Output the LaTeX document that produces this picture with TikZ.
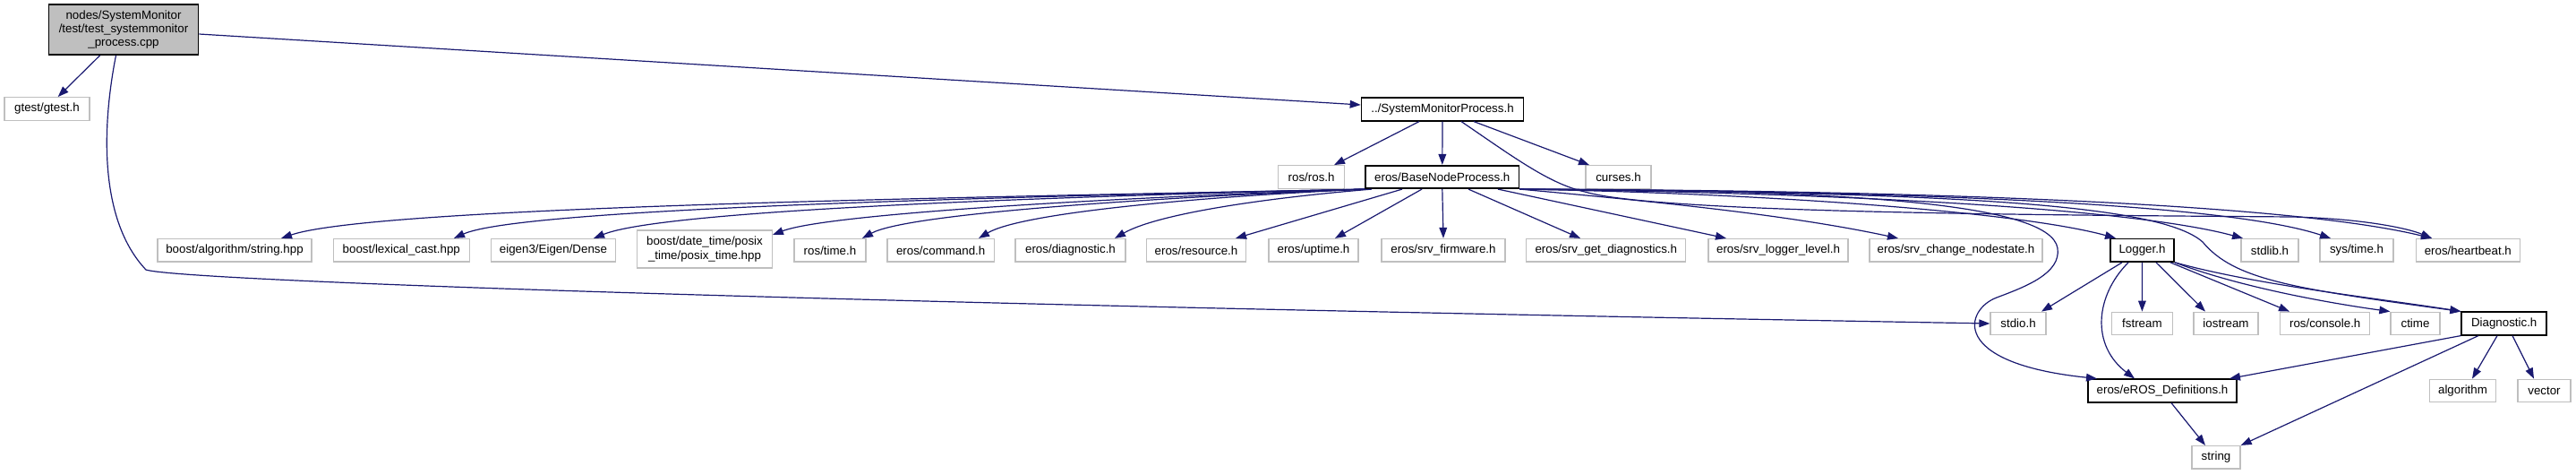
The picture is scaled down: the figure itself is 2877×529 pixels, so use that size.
\documentclass[tikz,border=0pt]{standalone}
\usepackage{fontspec}
\setmainfont{Liberation Sans}
\usetikzlibrary{arrows.meta,calc}
\definecolor{edgec}{HTML}{191970}
\definecolor{greyb}{HTML}{BFBFBF}
\definecolor{greyf}{HTML}{BFBFBF}
\begin{document}
\begin{tikzpicture}[x=0.75pt,y=-0.75pt,
  every node/.style={font=\fontsize{10}{11.5}\selectfont, inner sep=0pt, align=center},
  gbox/.style={draw=greyb, line width=1pt, minimum height=25.5*0.75pt, minimum width=#1*0.75pt},
  bbox/.style={draw=black, line width=1.25pt, minimum height=25.5*0.75pt, minimum width=#1*0.75pt},
  dep/.style={draw=edgec, line width=0.9pt, -{Triangle[length=9pt,width=6.5pt]}}]
\useasboundingbox (0,0) rectangle (2877,529);
% nodes
\node[bbox=167, fill=greyf, minimum height=56*0.75pt] (root) at (138,33) {nodes/SystemMonitor\\/test/test\_systemmonitor\\\_process.cpp};
\node[gbox=95] (gtest) at (52.5,121.5) {gtest/gtest.h};
\node[bbox=181] (smp) at (1611,122) {../SystemMonitorProcess.h};
\node[gbox=74] (ros) at (1464.6,197.5) {ros/ros.h};
\node[bbox=171.5] (bnp) at (1610.8,197.5) {eros/BaseNodeProcess.h};
\node[gbox=73] (curses) at (1807.5,197.5) {curses.h};
\node[gbox=172] (bas) at (262,279.3) {boost/algorithm/string.hpp};
\node[gbox=152] (blc) at (448.3,279.3) {boost/lexical\_cast.hpp};
\node[gbox=139] (eig) at (618,279.3) {eigen3/Eigen/Dense};
\node[gbox=150.5, minimum height=42*0.75pt] (posix) at (787,278) {boost/date\_time/posix\\\_time/posix\_time.hpp};
\node[gbox=80] (rtime) at (927,279.3) {ros/time.h};
\node[gbox=119.5] (cmd) at (1050.7,279.3) {eros/command.h};
\node[gbox=123] (diagn) at (1195.5,279.3) {eros/diagnostic.h};
\node[gbox=111] (res) at (1336,279.3) {eros/resource.h};
\node[gbox=100] (upt) at (1467,279.3) {eros/uptime.h};
\node[gbox=138] (fw) at (1612,279.3) {eros/srv\_firmware.h};
\node[gbox=178] (sgd) at (1793.8,279.3) {eros/srv\_get\_diagnostics.h};
\node[gbox=156] (sll) at (1986,279.3) {eros/srv\_logger\_level.h};
\node[gbox=193] (scn) at (2184.5,279.3) {eros/srv\_change\_nodestate.h};
\node[bbox=71.6] (log) at (2392.5,279.3) {Logger.h};
\node[gbox=64] (stdlib) at (2535,279.3) {stdlib.h};
\node[gbox=82] (systime) at (2632,279.3) {sys/time.h};
\node[gbox=116] (hb) at (2756.3,279.3) {eros/heartbeat.h};
\node[gbox=62] (stdio) at (2254,361) {stdio.h};
\node[gbox=68] (fst) at (2392.4,361) {fstream};
\node[gbox=72] (ios) at (2486,361) {iostream};
\node[gbox=100] (rcon) at (2596.7,361) {ros/console.h};
\node[gbox=55] (ctime) at (2697.5,361) {ctime};
\node[bbox=95] (diag) at (2796.7,361) {Diagnostic.h};
\node[bbox=166.5] (edef) at (2415,436) {eros/eROS\_Definitions.h};
\node[gbox=74] (alg) at (2750.5,436) {algorithm};
\node[gbox=59] (vec) at (2841.5,436) {vector};
\node[gbox=54] (str) at (2475,510.3) {string};
% edges from root
\draw[dep] (111.6,0 |- root.south) -- (64.7,0 |- gtest.north);
\draw[dep] (root.east |- 0,38) -- (smp.west |- 0,117);
\draw[dep] (129.5,0 |- root.south) .. controls (114,140) and (110,245) .. (163,301) .. controls (200,313) and (900,338) .. (stdio.west);
% edges from SystemMonitorProcess
\draw[dep] (1585,0 |- smp.south) -- (1490,0 |- ros.north);
\draw[dep] (smp.south) -- (bnp.north);
\draw[dep] (1646,0 |- smp.south) -- (1775,0 |- curses.north);
\draw[dep] (1632,0 |- smp.south) .. controls (1690,175) and (1730,205) .. (1770,214) .. controls (1850,238) and (2300,240) .. (2560,242) .. controls (2640,244) and (2690,255) .. (2716,0 |- hb.north);
% edges from BaseNodeProcess
\draw[dep] (bnp.south west) .. controls (1100,220) and (420,230) .. (314,0 |- bas.north);
\draw[dep] (bnp.south west) .. controls (1100,220) and (580,233) .. (507,0 |- blc.north);
\draw[dep] (bnp.south west) .. controls (1150,220) and (740,235) .. (663,0 |- eig.north);
\draw[dep] (bnp.south west) .. controls (1200,222) and (920,240) .. (posix.north east |- 0,262);
\draw[dep] (bnp.south west) .. controls (1250,222) and (1010,240) .. (963,0 |- rtime.north);
\draw[dep] (bnp.south west) .. controls (1330,220) and (1140,238) .. (1093,0 |- cmd.north);
\draw[dep] (1532,0 |- bnp.south) .. controls (1400,222) and (1290,240) .. (1245,0 |- diagn.north);
\draw[dep] (1566,0 |- bnp.south) -- (1380,0 |- res.north);
\draw[dep] (1588,0 |- bnp.south) -- (1491,0 |- upt.north);
\draw[dep] (bnp.south) -- (fw.north);
\draw[dep] (1640,0 |- bnp.south) -- (1765,0 |- sgd.north);
\draw[dep] (1673,0 |- bnp.south) -- (1928,0 |- sll.north);
\draw[dep] (bnp.south east) .. controls (1850,225) and (2000,240) .. (2120,0 |- scn.north);
\draw[dep] (bnp.south east) .. controls (1950,215) and (2250,235) .. (2363,0 |- log.north);
\draw[dep] (bnp.south east) .. controls (2050,215) and (2380,232) .. (2505,0 |- stdlib.north);
\draw[dep] (bnp.south east) .. controls (2100,213) and (2480,225) .. (2603,0 |- systime.north);
\draw[dep] (bnp.south east) .. controls (2100,212) and (2550,225) .. (2716,0 |- hb.north);
\draw[dep] (bnp.south east) .. controls (2050,212) and (2290,225) .. (2298,277) .. controls (2302,305) and (2262,320) .. (2230,332) .. controls (2195,345) and (2175,405) .. (2342,0 |- edef.north);
\draw[dep] (bnp.south east) .. controls (2150,215) and (2410,225) .. (2460,270) .. controls (2495,312) and (2560,322) .. (diag.north west);
% edges from Logger
\draw[dep] (2370,0 |- log.south) -- (2280,0 |- stdio.north);
\draw[dep] (2377,0 |- log.south) .. controls (2340,330) and (2335,385) .. (2384,0 |- edef.north);
\draw[dep] (log.south) -- (fst.north);
\draw[dep] (2408,0 |- log.south) -- (2463,0 |- ios.north);
\draw[dep] (2424,0 |- log.south) -- (2557,0 |- rcon.north);
\draw[dep] (log.south east) .. controls (2500,320) and (2600,338) .. (ctime.north west);
\draw[dep] (log.south east) .. controls (2520,318) and (2650,332) .. (diag.north west);
% edges from Diagnostic
\draw[dep] (diag.south west) -- (2490,0 |- edef.north);
\draw[dep] (2768,0 |- diag.south) -- (str.north east);
\draw[dep] (2789,0 |- diag.south) -- (2761,0 |- alg.north);
\draw[dep] (2806,0 |- diag.south) -- (2830,0 |- vec.north);
% edge from eROS_Definitions
\draw[dep] (2425,0 |- edef.south) -- (2463,0 |- str.north);
\end{tikzpicture}
\end{document}
